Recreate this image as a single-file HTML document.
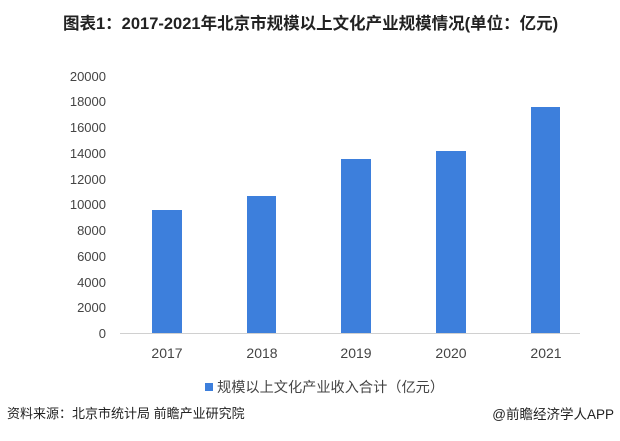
<!DOCTYPE html>
<html><head><meta charset="utf-8"><style>
body{margin:0;width:620px;height:441px;background:#fff;position:relative;overflow:hidden;font-family:"Liberation Sans","Noto Sans CJK SC",sans-serif}
.t{position:absolute;white-space:nowrap}
</style></head><body>
<div class="t" style="left:63px;top:10px;font-size:16.5px;font-weight:bold;color:#222">图表1：2017-2021年北京市规模以上文化产业规模情况(单位：亿元)</div>
<svg width="620" height="441" style="position:absolute;left:0;top:0" font-family="Liberation Sans, sans-serif">
<g font-size="13" fill="#444" text-anchor="end">
<text x="106" y="338">0</text>
<text x="106" y="312">2000</text>
<text x="106" y="287">4000</text>
<text x="106" y="261">6000</text>
<text x="106" y="235">8000</text>
<text x="106" y="209">10000</text>
<text x="106" y="184">12000</text>
<text x="106" y="158">14000</text>
<text x="106" y="132">16000</text>
<text x="106" y="106">18000</text>
<text x="106" y="81">20000</text>
</g>
<g fill="#3d7fdc">
<rect x="152" y="210" width="30" height="123"/>
<rect x="247" y="196" width="29" height="137"/>
<rect x="341" y="159" width="30" height="174"/>
<rect x="436" y="151" width="30" height="182"/>
<rect x="531" y="107" width="29" height="226"/>
</g>
<line x1="120" y1="333.5" x2="580" y2="333.5" stroke="#d0d0d0"/>
<g font-size="14" fill="#444" text-anchor="middle">
<text x="167" y="358">2017</text>
<text x="262" y="358">2018</text>
<text x="356" y="358">2019</text>
<text x="451" y="358">2020</text>
<text x="546" y="358">2021</text>
</g>
<rect x="205" y="383" width="8" height="8" fill="#3d7fdc"/>
</svg>
<div class="t" style="left:217px;top:377px;font-size:14.2px;color:#444">规模以上文化产业收入合计（亿元）</div>
<div class="t" style="left:7px;top:403px;font-size:13px;color:#222">资料来源：北京市统计局 前瞻产业研究院</div>
<div class="t" style="right:6px;top:403px;font-size:13.5px;color:#222">@前瞻经济学人APP</div>
</body></html>
